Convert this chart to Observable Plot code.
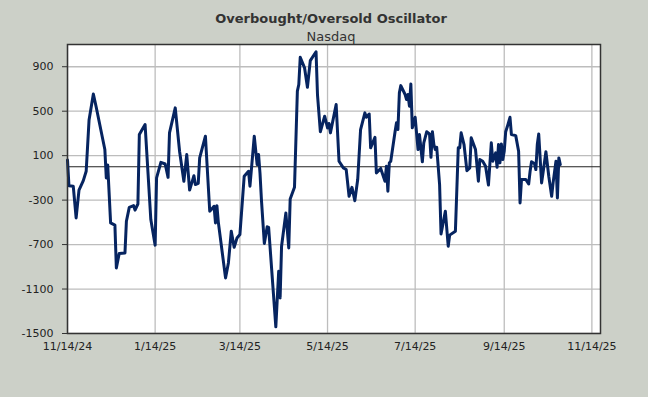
<!DOCTYPE html>
<html>
<head>
<meta charset="utf-8">
<script src="https://cdn.jsdelivr.net/npm/d3@7"></script>
<script src="https://cdn.jsdelivr.net/npm/@observablehq/plot@0.6"></script>
<style>
  html, body { margin: 0; padding: 0; background: #ccd0c8; }
  #wrap { position: relative; width: 648px; height: 397px; background: #ccd0c8; overflow: hidden; font-family: "DejaVu Sans", Verdana, sans-serif; }
  #title { position: absolute; left: 0; width: 662px; top: 11px; text-align: center; font-weight: bold; font-size: 13px; color: #333; }
  #subtitle { position: absolute; left: 0; width: 662px; top: 29px; text-align: center; font-size: 13px; color: #333; }
  #chart { position: absolute; left: 0; top: 0; }
</style>
</head>
<body>
<div id="wrap">
  <div id="chart"></div>
  <div id="title">Overbought/Oversold Oscillator</div>
  <div id="subtitle">Nasdaq</div>
</div>
<script>
const dates = [
  "2024-11-14","2024-11-15","2024-11-18","2024-11-20","2024-11-22","2024-11-25","2024-11-27","2024-11-29",
  "2024-12-02","2024-12-04","2024-12-10","2024-12-11","2024-12-12","2024-12-14","2024-12-17","2024-12-18",
  "2024-12-20","2024-12-24","2024-12-25","2024-12-27","2024-12-30","2024-12-31",
  "2025-01-02","2025-01-03","2025-01-07","2025-01-11","2025-01-14","2025-01-15","2025-01-18","2025-01-21",
  "2025-01-23","2025-01-24","2025-01-28","2025-01-31",
  "2025-02-03","2025-02-05","2025-02-07","2025-02-10","2025-02-11","2025-02-13","2025-02-14","2025-02-18",
  "2025-02-21","2025-02-23","2025-02-24","2025-02-25","2025-02-26","2025-02-27",
  "2025-03-04","2025-03-06","2025-03-08","2025-03-10","2025-03-12","2025-03-14","2025-03-17","2025-03-20",
  "2025-03-21","2025-03-24","2025-03-26","2025-03-27","2025-03-28","2025-03-29","2025-03-31",
  "2025-04-02","2025-04-03","2025-04-08","2025-04-10","2025-04-11","2025-04-12","2025-04-15","2025-04-17",
  "2025-04-18","2025-04-21","2025-04-23","2025-04-24","2025-04-25","2025-04-28","2025-04-30",
  "2025-05-02","2025-05-06","2025-05-07","2025-05-09","2025-05-12","2025-05-14","2025-05-15","2025-05-16",
  "2025-05-20","2025-05-22","2025-05-25","2025-05-27","2025-05-29","2025-05-31",
  "2025-06-02","2025-06-04","2025-06-06","2025-06-09","2025-06-10","2025-06-12","2025-06-13","2025-06-16",
  "2025-06-17","2025-06-20","2025-06-23","2025-06-24","2025-06-25","2025-06-26","2025-06-27","2025-06-30",
  "2025-07-01","2025-07-02","2025-07-03","2025-07-04","2025-07-07","2025-07-08","2025-07-09","2025-07-10",
  "2025-07-11","2025-07-12","2025-07-14","2025-07-16","2025-07-17","2025-07-19","2025-07-20","2025-07-22",
  "2025-07-24","2025-07-25","2025-07-26","2025-07-27","2025-07-28","2025-07-29","2025-07-31",
  "2025-08-01","2025-08-04","2025-08-06","2025-08-07","2025-08-11","2025-08-13","2025-08-14","2025-08-15",
  "2025-08-17","2025-08-19","2025-08-21","2025-08-22","2025-08-25","2025-08-27","2025-08-28","2025-08-30",
  "2025-09-01","2025-09-03","2025-09-05","2025-09-06","2025-09-08","2025-09-09","2025-09-10","2025-09-11",
  "2025-09-12","2025-09-13","2025-09-14","2025-09-15","2025-09-16","2025-09-18","2025-09-19","2025-09-22",
  "2025-09-24","2025-09-25","2025-09-26","2025-09-29",
  "2025-10-01","2025-10-02","2025-10-03","2025-10-05","2025-10-06","2025-10-07","2025-10-08","2025-10-10",
  "2025-10-11","2025-10-13","2025-10-15","2025-10-17","2025-10-18","2025-10-20","2025-10-21","2025-10-22",
  "2025-10-23"
];
const values = [
  60,-170,-175,-460,-210,-125,-40,420,
  655,535,155,-100,15,-505,-525,-910,
  -780,-775,-490,-365,-350,-390,
  -335,290,380,-475,-705,-100,40,25,
  -95,305,530,140,
  -130,110,-210,-80,-160,-150,80,275,
  -400,-370,-355,-505,-350,-500,
  -1000,-865,-580,-725,-640,-610,-85,-40,
  -175,275,20,110,-60,-300,-690,
  -540,-545,-1440,-940,-1180,-715,-415,-730,
  -290,-185,680,740,985,890,715,
  955,1035,650,315,455,350,390,305,
  560,50,-10,-25,-265,-185,
  -305,-115,335,485,445,475,170,265,
  -55,-15,-130,5,-220,35,50,315,
  395,335,665,730,650,605,650,545,
  745,350,445,155,290,45,215,315,
  295,85,315,200,155,175,-160,
  -605,-400,-715,-615,-580,170,170,305,
  200,-35,-10,260,155,-130,65,50,
  5,-165,215,50,125,-5,200,35,
  205,65,140,315,355,445,290,280,
  140,-325,-115,-115,
  -155,-40,45,30,-25,200,295,-145,
  -55,135,-85,-265,-145,50,-280,80,
  20
];
const xTicks = ["2024-11-14","2025-01-14","2025-03-14","2025-05-14","2025-07-14","2025-09-14","2025-11-14"];
const yTicks = [-1500,-1100,-700,-300,100,500,900];
const xDomain = ["2024-11-14","2025-11-20"];
const yDomain = [-1500,1100];

const data = dates.map((d, i) => ({date: new Date(d), value: values[i]}));
const xt = xTicks.map(d => new Date(d));
const fmt = d => `${d.getUTCMonth() + 1}/${d.getUTCDate()}/${String(d.getUTCFullYear()).slice(2)}`;

const chart = Plot.plot({
  width: 648,
  height: 397,
  marginLeft: 67,
  marginRight: 48,
  marginTop: 44,
  marginBottom: 64,
  style: {background: "transparent", fontFamily: "DejaVu Sans, Verdana, sans-serif", fontSize: "11px", color: "#222"},
  x: {type: "utc", domain: xDomain.map(d => new Date(d)), label: null},
  y: {domain: yDomain, label: null},
  marks: [
    Plot.rect([0], {x1: () => new Date(xDomain[0]), x2: () => new Date(xDomain[1]), y1: yDomain[0], y2: yDomain[1], fill: "white"}),
    Plot.gridX(xt, {stroke: "#bdbdbd", strokeOpacity: 1, strokeWidth: 1.3}),
    Plot.gridY(yTicks, {stroke: "#bdbdbd", strokeOpacity: 1, strokeWidth: 1.3}),
    Plot.ruleY([0], {stroke: "#222", strokeWidth: 1.2}),
    Plot.line(data, {x: "date", y: "value", stroke: "#062460", strokeWidth: 3, strokeLinejoin: "round"}),
    Plot.frame({stroke: "#333", strokeWidth: 1.5}),
    Plot.axisY(yTicks, {label: null, tickSize: 5, tickPadding: 9, tickFormat: d => String(d), stroke: "#333", fill: "#222", fontSize: 11}),
    Plot.axisX(xt, {label: null, tickSize: 0, tickPadding: 9, tickFormat: fmt, fill: "#222", fontSize: 11})
  ]
});
document.getElementById("chart").appendChild(chart);
</script>
</body>
</html>
